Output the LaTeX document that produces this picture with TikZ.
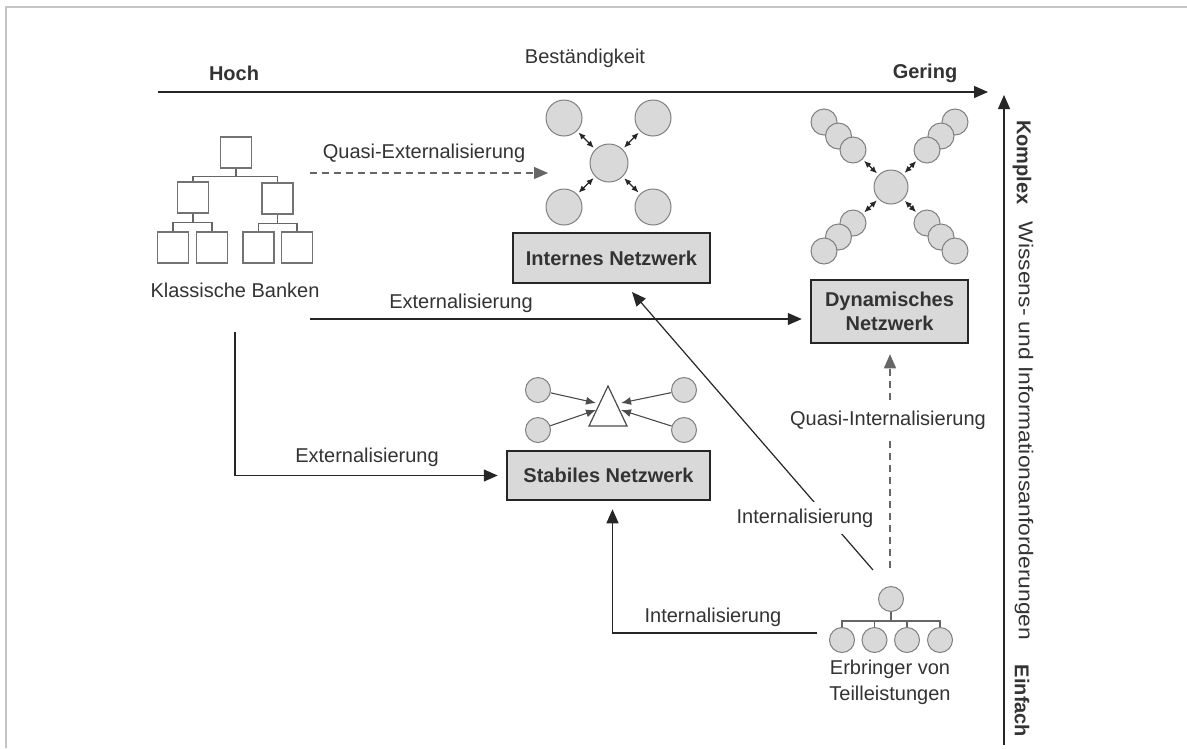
\documentclass[tikz,border=0pt]{standalone}
\usepackage{fontspec}
\setmainfont{Liberation Sans}
\usetikzlibrary{arrows.meta}
\definecolor{txt}{HTML}{333333}
\definecolor{fillg}{HTML}{D9D9D9}
\definecolor{circb}{HTML}{808080}
\definecolor{framec}{HTML}{C4C4C4}
\begin{document}
\begin{tikzpicture}[x=1pt,y=-1pt,
  lbl/.style={font=\fontsize{20}{23}\selectfont, text=txt, inner sep=0pt},
  blbl/.style={font=\fontsize{20}{23}\selectfont\bfseries, text=txt, inner sep=0pt},
  gaplbl/.style={lbl, fill=white, inner xsep=2pt, inner ysep=7pt},
  netbox/.style={draw=black!85, fill=fillg, line width=2.5pt, font=\fontsize{20}{24}\selectfont\bfseries, text=txt, align=center, inner sep=0pt},
  circ/.style={circle, draw=circb, fill=fillg, line width=1pt, inner sep=0pt, minimum size=#1},
  orgbox/.style={draw=black!55, line width=1.2pt, minimum size=31pt, inner sep=0pt},
  orgline/.style={draw=black!60, line width=1.2pt},
  conn/.style={line width=1.2pt, draw=black!85},
  dconn/.style={line width=1.3pt, draw=black!60, dash pattern=on 7pt off 5pt},
  tip/.style={-{Triangle[length=14pt,width=12pt]}},
  dbl/.style={line width=1.2pt, draw=black!85, {Latex[length=7pt,width=6pt]}-{Latex[length=7pt,width=6pt]}, shorten <=2pt, shorten >=2pt},
  sarr/.style={line width=1.1pt, draw=black!70, -{Latex[length=10pt,width=8pt]}},
]
\useasboundingbox (0,0) rectangle (1187,748);
\fill[white] (0,0) rectangle (1187,748);
% frame
\draw[framec, line width=2pt] (6,748) -- (6,7) -- (1187,7);

% axes
\coordinate (axl) at (158,92);
\coordinate (axr) at (988,92);
\draw[conn, tip] (axl) -- (axr);
\coordinate (ayb) at (1004,745);
\coordinate (ayt) at (1004,95);
\draw[conn, tip] (ayb) -- (ayt);
\node[blbl] (hoch) at (234,73) {Hoch};
\node[lbl] (best) at (585,58) {Beständigkeit};
\node[blbl] (gering) at (925,73) {Gering};
\node[blbl, rotate=-90] (komplex) at (1022,162.5) {Komplex};
\node[lbl, rotate=-90] (wissen) at (1024,431) {\scalebox{1.14}[1]{Wissens- und Informationsanforderungen}};
\node[blbl, rotate=-90] (einfach) at (1022,701) {Einfach};

% Klassische Banken tree
\node[orgbox] (b0) at (236,152.5) {};
\node[orgbox] (b1) at (193,197.5) {};
\node[orgbox] (b2) at (277.5,198.5) {};
\node[orgbox] (b11) at (173,247.5) {};
\node[orgbox] (b12) at (212,247.5) {};
\node[orgbox] (b21) at (258.5,247.5) {};
\node[orgbox] (b22) at (297,247.5) {};
\draw[orgline] (b0.south) -- ++(0,8) -| (b1.north);
\draw[orgline] (b0.south) ++(0,8) -| (b2.north);
\draw[orgline] (b1.south) -- ++(0,9) -| (b11.north);
\draw[orgline] (b1.south) ++(0,9) -| (b12.north);
\draw[orgline] (b2.south) -- ++(0,9) -| (b21.north);
\draw[orgline] (b2.south) ++(0,9) -| (b22.north);
\node[lbl] (kb) at (235,290) {Klassische Banken};

% Internes Netzwerk
\node[circ=38pt] (ic) at (609,163) {};
\node[circ=36pt] (itl) at (564,118) {};
\node[circ=36pt] (itr) at (653,118) {};
\node[circ=36pt] (ibl) at (564,207) {};
\node[circ=36pt] (ibr) at (653,207) {};
\foreach \n in {itl,itr,ibl,ibr} \draw[dbl] (ic) -- (\n);
\node[netbox, minimum width=197pt, minimum height=50pt] (inet) at (611.5,258) {Internes Netzwerk};

% Dynamisches Netzwerk
\node[circ=34pt] (dc) at (891,187) {};
\node[circ=26pt] (dtl1) at (824,122) {};
\node[circ=26pt] (dtl2) at (838.5,136) {};
\node[circ=26pt] (dtl3) at (853,150) {};
\node[circ=26pt] (dtr1) at (955,122) {};
\node[circ=26pt] (dtr2) at (941,136) {};
\node[circ=26pt] (dtr3) at (927,150) {};
\node[circ=26pt] (dbl3) at (853,223) {};
\node[circ=26pt] (dbl2) at (838.5,237) {};
\node[circ=26pt] (dbl1) at (824,251) {};
\node[circ=26pt] (dbr3) at (927,223) {};
\node[circ=26pt] (dbr2) at (941,237) {};
\node[circ=26pt] (dbr1) at (955,251) {};
\foreach \n in {dtl3,dtr3,dbl3,dbr3} \draw[dbl] (dc) -- (\n);
\node[netbox, minimum width=157pt, minimum height=63pt] (dnet) at (889.5,311.5) {Dynamisches\\Netzwerk};

% Stabiles Netzwerk
\node[circ=25pt] (s1) at (538,390) {};
\node[circ=25pt] (s2) at (538,430) {};
\node[circ=25pt] (s3) at (684,390) {};
\node[circ=25pt] (s4) at (684,430) {};
\coordinate (ta) at (608,386);
\coordinate (tb) at (589,426);
\coordinate (tc) at (627,426);
\draw[black!70, line width=1.2pt, fill=white] (ta) -- (tb) -- (tc) -- cycle;
\coordinate (t1) at (596,403);
\coordinate (t2) at (596,410);
\coordinate (t3) at (621,403);
\coordinate (t4) at (621,410);
\draw[sarr] (s1) -- (t1);
\draw[sarr] (s2) -- (t2);
\draw[sarr] (s3) -- (t3);
\draw[sarr] (s4) -- (t4);
\node[netbox, minimum width=203pt, minimum height=49pt] (snet) at (608.5,475.5) {Stabiles Netzwerk};

% Erbringer von Teilleistungen
\node[circ=25pt] (e0) at (891,599) {};
\node[circ=25pt] (e1) at (842,640) {};
\node[circ=25pt] (e2) at (874.5,640) {};
\node[circ=25pt] (e3) at (907,640) {};
\node[circ=25pt] (e4) at (940,640) {};
\draw[orgline] (e0.south) -- ++(0,9) -| (e1.north);
\draw[orgline] (e0.south) ++(0,9) -| (e4.north);
\draw[orgline] (e0.south) ++(0,9) -| (e2.north);
\draw[orgline] (e0.south) ++(0,9) -| (e3.north);
\node[lbl, align=center, font=\fontsize{20}{26}\selectfont] (erb) at (890,682) {Erbringer von\\Teilleistungen};

% connectors
\coordinate (qes) at (310,173);
\coordinate (qee) at (548,173);
\draw[dconn, tip] (qes) -- (qee);
\node[lbl] (qel) at (424,153) {Quasi-Externalisierung};

\coordinate (ex1s) at (310,319);
\draw[conn, tip, shorten >=8pt] (ex1s) -- (ex1s -| dnet.west);
\node[lbl] (ex1l) at (461,303) {Externalisierung};

\coordinate (ex2s) at (235,332);
\draw[conn, tip, shorten >=8pt] (ex2s) |- (snet.west);
\node[lbl] (ex2l) at (367,457) {Externalisierung};

\coordinate (in1s) at (817,633);
\draw[conn, tip, shorten >=8pt] (in1s) -| ([xshift=4pt]snet.south);
\node[lbl] (in1l) at (713,617) {Internalisierung};

\coordinate (in2s) at (873,570);
\coordinate (in2e) at (632,292);
\draw[conn, tip] (in2s) -- (in2e);
\node[gaplbl] (in2l) at (805,518) {Internalisierung};

\coordinate (qis) at (890,568);
\draw[dconn, tip, shorten >=10pt] (qis) -- (qis |- dnet.south);
\node[gaplbl, inner ysep=9pt] (qil) at (888,420) {Quasi-Internalisierung};
\end{tikzpicture}
\end{document}
